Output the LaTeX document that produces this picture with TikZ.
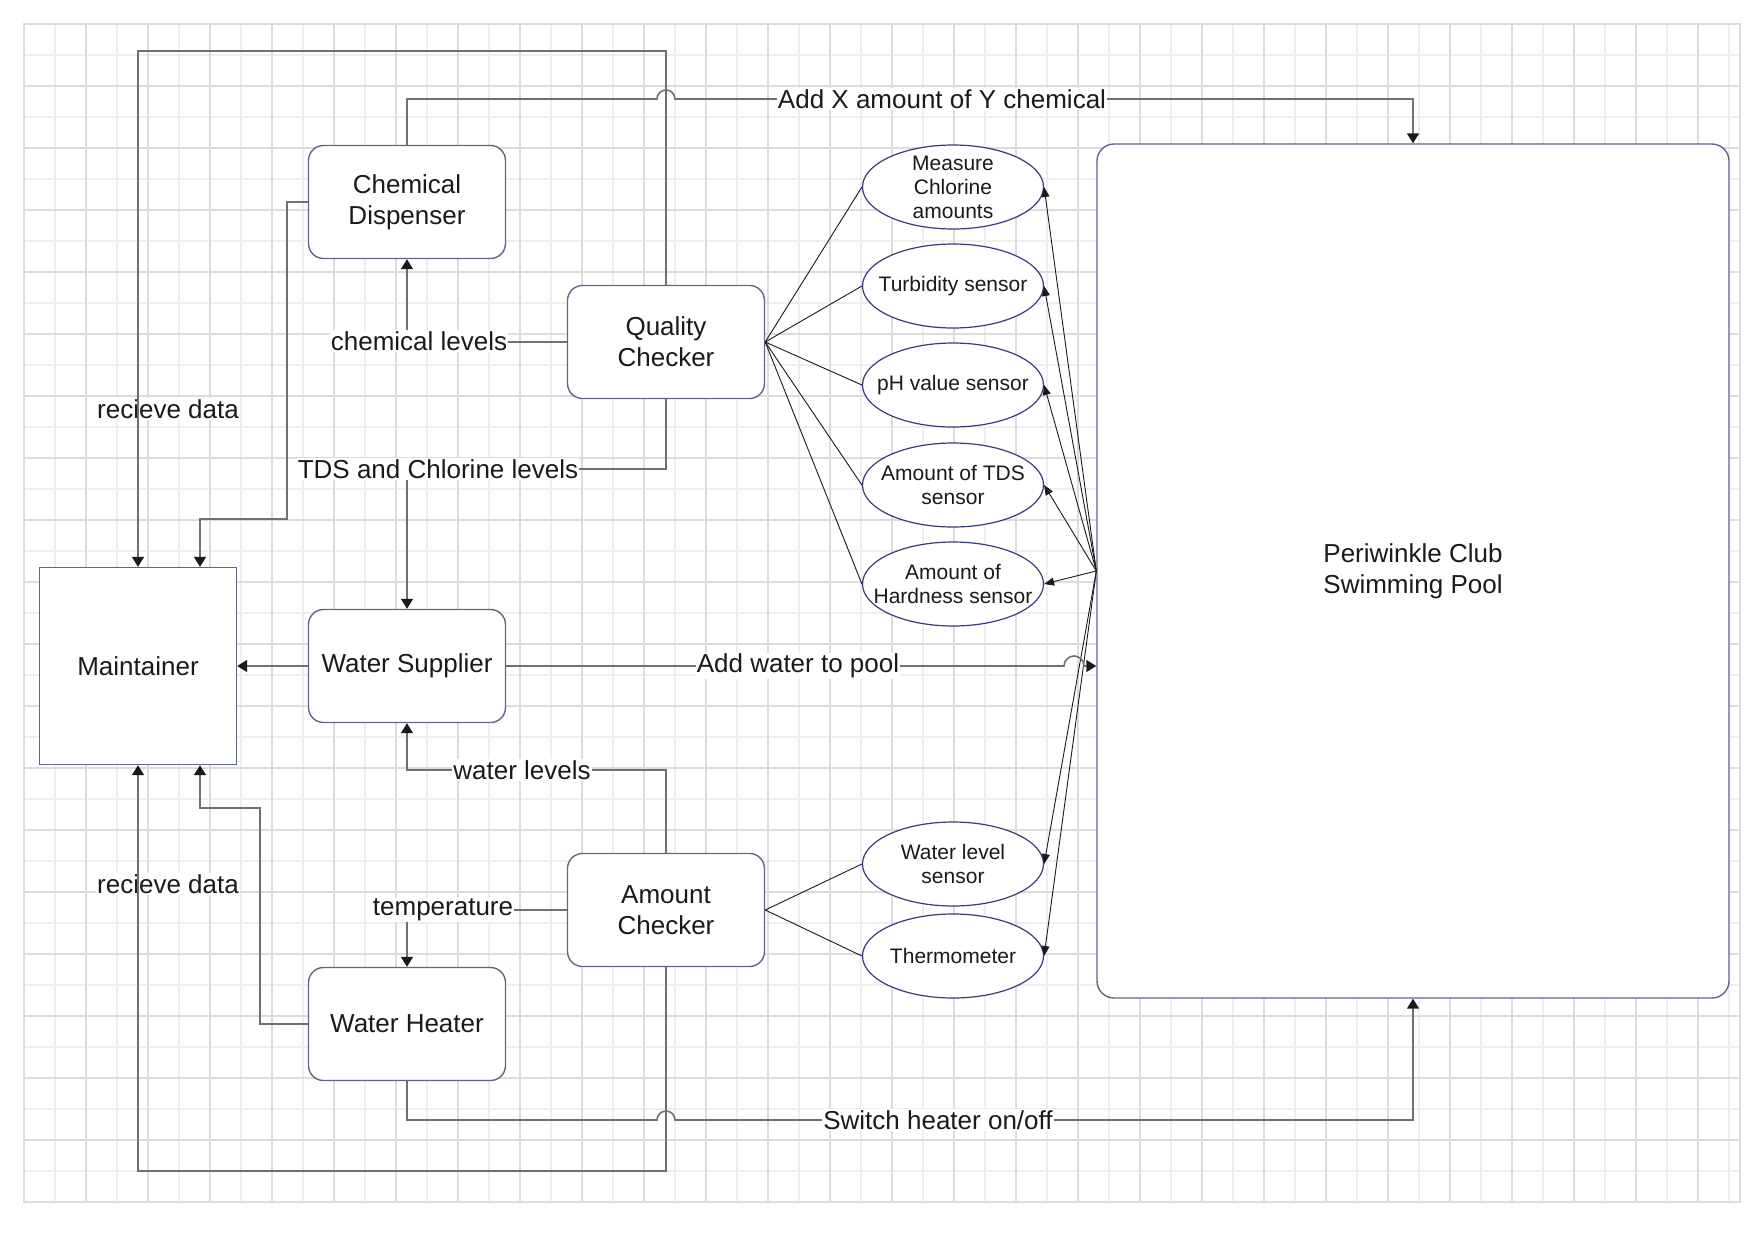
\documentclass[tikz,border=0pt]{standalone}
\usepackage{fontspec}
\setmainfont{Liberation Sans}
\usetikzlibrary{arrows.meta, shapes.geometric}
\pgfdeclarelayer{background}
\pgfsetlayers{background, main}
\definecolor{box_border}{RGB}{96, 102, 138}
\definecolor{sensor_border}{RGB}{52, 62, 118}
\definecolor{link_gray}{RGB}{112, 112, 112}
\definecolor{grid_major}{RGB}{220, 220, 220}
\definecolor{grid_minor}{RGB}{238, 238, 238}
\definecolor{ink}{RGB}{26, 26, 26}
\newcommand{\blockfont}{\fontsize{26}{31}\selectfont}
\newcommand{\sensorfont}{\fontsize{21}{24}\selectfont}
\tikzstyle{block}=[draw=box_border, line width=1.4pt, fill=white, rounded corners=15pt, minimum width=197pt, minimum height=113pt, align=center, font=\blockfont, text=ink]
\tikzstyle{maintbox}=[draw=box_border, line width=1.4pt, fill=white, minimum width=197pt, minimum height=197pt, font=\blockfont, text=ink]
\tikzstyle{poolbox}=[draw=box_border, line width=1.4pt, fill=white, rounded corners=17pt, minimum width=632pt, minimum height=854pt, align=center, font=\blockfont, text=ink]
\tikzstyle{sensor}=[ellipse, draw=sensor_border, line width=1.2pt, fill=white, minimum width=181pt, minimum height=84pt, inner sep=0pt]
\tikzstyle{sensortext}=[font=\sensorfont, align=center, inner sep=0pt, text=ink]
\tikzstyle{link}=[draw=link_gray, line width=1.6pt, -{Triangle[length=10pt, width=12pt, color=ink]}]
\tikzstyle{fan}=[draw=ink, line width=0.9pt]
\tikzstyle{lbl}=[fill=white, inner sep=1pt, font=\blockfont, text=ink]

\begin{document}
\begin{tikzpicture}[x=1pt, y=-1pt]
    \useasboundingbox (0,0) rectangle (1764,1232);
    % grid paper
    \begin{pgfonlayer}{background}
        \fill[white] (0,0) rectangle (1764,1232);
        \foreach \g in {55,117,...,1740} \draw[grid_minor, line width=1.3pt] (\g,24) -- (\g,1202);
        \foreach \g in {55,117,...,1202} \draw[grid_minor, line width=1.3pt] (24,\g) -- (1740,\g);
        \foreach \g in {24,86,...,1740} \draw[grid_major, line width=1.6pt] (\g,24) -- (\g,1202);
        \foreach \g in {24,86,...,1202} \draw[grid_major, line width=1.6pt] (24,\g) -- (1740,\g);
        \draw[grid_major, line width=2pt] (24,24) rectangle (1740,1202);
    \end{pgfonlayer}

    \node[block] (chem) at (407,202) {Chemical\\Dispenser};
    \node[block] (quality) at (666,342) {Quality\\Checker};
    \node[block] (supplier) at (407,666) {Water Supplier};
    \node[block] (amount) at (666,910) {Amount\\Checker};
    \node[block] (heater) at (407,1024) {Water Heater};
    \node[maintbox] (maint) at (138,666) {Maintainer};
    \node[poolbox] (pool) at (1413,571) {Periwinkle Club\\Swimming Pool};

    % sensors
    \node[sensor, label={[sensortext]center:Measure\\Chlorine\\amounts}] (chlorine) at (953,187) {};
    \node[sensor, label={[sensortext]center:Turbidity sensor}] (turbidity) at (953,286) {};
    \node[sensor, label={[sensortext]center:pH value sensor}] (ph) at (953,385) {};
    \node[sensor, label={[sensortext]center:Amount of TDS\\sensor}] (tds) at (953,485) {};
    \node[sensor, label={[sensortext]center:Amount of\\Hardness sensor}] (hardness) at (953,584) {};
    \node[sensor, label={[sensortext]center:Water level\\sensor}] (level) at (953,864) {};
    \node[sensor, label={[sensortext]center:Thermometer}] (thermo) at (953,956) {};

    \foreach \s in {chlorine, turbidity, ph, tds, hardness}
    {
        \draw[fan] (quality.east) -- (\s.west);
        \draw[fan, -{Triangle[length=10pt, width=8pt]}] (pool.west) -- (\s.east);
    }
    \foreach \s in {level, thermo}
    {
        \draw[fan] (amount.east) -- (\s.west);
        \draw[fan, -{Triangle[length=10pt, width=8pt]}] (pool.west) -- (\s.east);
    }

    \node[lbl] (recv_top) at (168,409) {recieve data};
    \node[lbl] (recv_bottom) at (168,884) {recieve data};

    % connectors
    \draw[link] (quality.north) |- (138,51) -- (maint.north);
    \draw[link] (chem.north) |- (657,99) arc[start angle=180, end angle=0, radius=9pt] -| (pool.north);
    \draw[link] (chem.west) -| (287,519) -| ([xshift=62pt]maint.north);
    \draw[link] (quality.west) -| (chem.south);
    \draw[link] (quality.south) |- (407,469) -- (supplier.north);
    \draw[link] (supplier.west) -- (maint.east);
    \draw[link] (supplier.east) -- (1064,666) arc[start angle=180, end angle=0, radius=10pt] -- (pool.west |- supplier.east);
    \draw[link] (amount.north) |- (407,770) -- (supplier.south);
    \draw[link] (amount.west) -| (heater.north);
    \draw[link] (heater.west) -| (260,808) -| ([xshift=62pt]maint.south);
    \draw[link] (amount.south) |- (138,1171) -- (maint.south);
    \draw[link] (heater.south) |- (657,1120) arc[start angle=180, end angle=0, radius=9pt] -| (pool.south);

    \node[lbl] (chem_levels) at (419,341) {chemical levels};
    \node[lbl] (tds_levels) at (438,469) {TDS and Chlorine levels};
    \node[lbl] (add_chem) at (942,99) {Add X amount of Y chemical};
    \node[lbl] (add_water) at (798,666) {Add water to pool};
    \node[lbl] (water_levels) at (522,770) {water levels};
    \node[lbl] (temp) at (443,910) {temperature};
    \node[lbl] (switch) at (938,1120) {Switch heater on/off};
\end{tikzpicture}
\end{document}
